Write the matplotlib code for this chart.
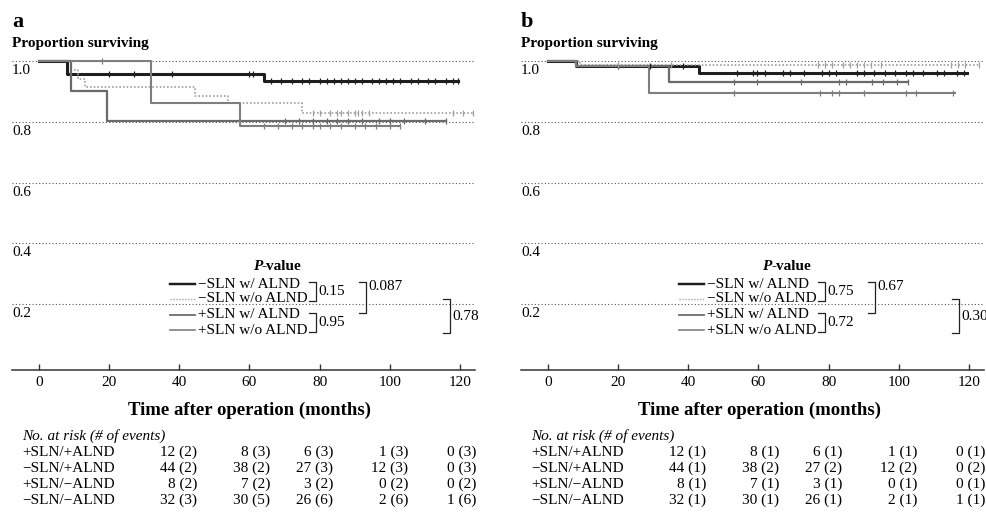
import numpy as np
import matplotlib
matplotlib.use('Agg')
import matplotlib.pyplot as plt

plt.rcParams['font.family'] = ['Liberation Serif', 'DejaVu Serif']

W, H = 986, 513

# ---- values: months / proportion surviving ----
legend_names = ['\u2212SLN w/ ALND', '\u2212SLN w/o ALND', '+SLN w/ ALND', '+SLN w/o ALND']

# panel a
a_negw_t = [0, 8, 64, 119.5]
a_negw_s = [1.0, 0.958, 0.933, 0.933]
a_negw_c = [20, 27, 38, 60, 61, 66, 69, 72, 75, 77, 80, 82, 84, 86, 88, 90, 92, 95,
            97, 99, 101, 103, 106, 108, 111, 113, 116, 118, 119.5]
a_negwo_t = [0, 9, 11, 13, 44.5, 54, 75, 123.7]
a_negwo_s = [1.0, 0.97, 0.94, 0.915, 0.884, 0.863, 0.83, 0.83]
a_negwo_c = [78, 80, 83, 85, 86, 88, 90, 91, 92, 94, 118, 121, 123.7]
a_posw_t = [0, 9, 19.3, 116]
a_posw_s = [1.0, 0.90, 0.803, 0.803]
a_posw_c = [70, 74, 78, 82, 85, 88, 92, 97, 100, 104, 110, 116]
a_poswo_t = [0, 32, 57.4, 103]
a_poswo_s = [1.0, 0.863, 0.785, 0.785]
a_poswo_c = [18, 64, 68, 72, 75, 78, 80, 83, 86, 90, 93, 96, 100, 103]

# panel b
b_negw_t = [0, 8, 43, 119.5]
b_negw_s = [1.0, 0.985, 0.96, 0.96]
b_negw_c = [20, 29, 38.5, 54, 58.5, 59.5, 62, 67, 69, 73, 78, 80, 82, 88, 90, 93, 96,
            99, 102, 104, 107, 111, 113, 116.5, 118.5]
b_negwo_t = [0, 9, 123]
b_negwo_s = [1.0, 0.988, 0.988]
b_negwo_c = [20, 35, 77, 79, 81, 84, 86, 88, 90, 92, 95, 115, 117, 119, 123]
b_posw_t = [0, 8, 34.4, 102.5]
b_posw_s = [1.0, 0.985, 0.93, 0.93]
b_posw_c = [53, 59.5, 72, 83, 85, 92.5, 95.5, 99.5, 102.5]
b_poswo_t = [0, 8, 28.7, 116]
b_poswo_s = [1.0, 0.985, 0.895, 0.895]
b_poswo_c = [53, 77.5, 81, 83, 90, 102, 105, 115.5]

# numbers at risk
risk_groups = ['+SLN/+ALND', '\u2212SLN/+ALND', '+SLN/\u2212ALND', '\u2212SLN/\u2212ALND']
a_risk = [['12 (2)', '8 (3)', '6 (3)', '1 (3)', '0 (3)'],
          ['44 (2)', '38 (2)', '27 (3)', '12 (3)', '0 (3)'],
          ['8 (2)', '7 (2)', '3 (2)', '0 (2)', '0 (2)'],
          ['32 (3)', '30 (5)', '26 (6)', '2 (6)', '1 (6)']]
b_risk = [['12 (1)', '8 (1)', '6 (1)', '1 (1)', '0 (1)'],
          ['44 (1)', '38 (2)', '27 (2)', '12 (2)', '0 (2)'],
          ['8 (1)', '7 (1)', '3 (1)', '0 (1)', '0 (1)'],
          ['32 (1)', '30 (1)', '26 (1)', '2 (1)', '1 (1)']]

# p-values: w vs w/o (-SLN), w vs w/o (+SLN), -SLN vs +SLN w/, -SLN vs +SLN w/o
a_pvals = ['0.15', '0.95', '0.087', '0.78']
b_pvals = ['0.75', '0.72', '0.67', '0.30']

styles = [dict(color='#1e1e1e', lw=2.2, ls='-'),
          dict(color='#a0a0a0', lw=1.2, ls=(0, (1, 1.2))),
          dict(color='#6a6a6a', lw=1.6, ls='-'),
          dict(color='#7e7e7e', lw=1.5, ls='-')]

panels = [
    dict(tag='a', dx=0,
         curves=[(a_negw_t, a_negw_s, a_negw_c), (a_negwo_t, a_negwo_s, a_negwo_c),
                 (a_posw_t, a_posw_s, a_posw_c), (a_poswo_t, a_poswo_s, a_poswo_c)],
         risk=a_risk, pvals=a_pvals),
    dict(tag='b', dx=509,
         curves=[(b_negw_t, b_negw_s, b_negw_c), (b_negwo_t, b_negwo_s, b_negwo_c),
                 (b_posw_t, b_posw_s, b_posw_c), (b_poswo_t, b_poswo_s, b_poswo_c)],
         risk=b_risk, pvals=b_pvals),
]

fig = plt.figure(figsize=(W / 100, H / 100), dpi=100)
fig.patch.set_facecolor('white')

# overlay in pixel units for the annotations
ov = fig.add_axes([0, 0, 1, 1], zorder=5)
ov.set_xlim(0, W)
ov.set_ylim(H, 0)
ov.axis('off')

# axes geometry (pixels)
ax_l, ax_r, ax_top, ax_bot = 12, 475, 50, 370
px0, px_per_m = 39, 3.508          # t = 0 position, px per month
py1, py_per_unit = 61, 304.0       # s = 1.0 position, px per unit

for p in panels:
    dx = p['dx']
    ax = fig.add_axes([(ax_l + dx) / W, (H - ax_bot) / H, (ax_r - ax_l) / W, (ax_bot - ax_top) / H])
    ax.set_xlim(-(px0 - ax_l) / px_per_m, (ax_r - px0) / px_per_m)
    ax.set_ylim(1 - (ax_bot - py1) / py_per_unit, 1 + (py1 - ax_top) / py_per_unit)
    for sp in ['top', 'left', 'right']:
        ax.spines[sp].set_visible(False)
    ax.spines['bottom'].set_color('#333333')
    ax.spines['bottom'].set_linewidth(1.1)
    ax.set_yticks([])
    ax.set_xticks(np.arange(0, 121, 20))
    ax.tick_params(axis='x', direction='in', length=4.5, width=1, colors='#333333',
                   labelsize=11, labelcolor='black', pad=4)
    ax.patch.set_alpha(0)

    for v in [0.2, 0.4, 0.6, 0.8, 1.0]:
        ax.axhline(v, color='#555555', lw=0.8, ls=(0, (1, 2)), zorder=1)
        ov.text(ax_l + dx, py1 + (1 - v) * py_per_unit + 3, '%.1f' % v,
                fontsize=11, va='top', ha='left')

    for (t, s, c), st in zip(p['curves'], styles):
        ax.step(t, s, where='post', color=st['color'], lw=st['lw'], ls=st['ls'], zorder=3)
        t_arr = np.array(t)
        s_arr = np.array(s)
        idx = np.searchsorted(t_arr, np.array(c), side='right') - 1
        ax.plot(c, s_arr[idx], ls='none', marker='|', ms=5, mew=0.9,
                color=st['color'], zorder=4)

    # panel letter and y title
    ov.text(ax_l + dx, 22, p['tag'], fontsize=16, fontweight='bold', va='center', ha='left')
    ov.text(ax_l + dx, 44, 'Proportion surviving', fontsize=11, fontweight='bold',
            va='center', ha='left')

    # x title
    ov.text(250 + dx, 410, 'Time after operation (months)', fontsize=13.5,
            fontweight='bold', va='center', ha='center')

    # legend with p-value brackets
    rows = [284, 299, 315, 330]
    ov.text(262 + dx, 266, 'P', fontsize=11, fontweight='bold', fontstyle='italic',
            va='center', ha='right')
    ov.text(262 + dx, 266, '-value', fontsize=11, fontweight='bold', va='center', ha='left')
    for name, y, st in zip(legend_names, rows, styles):
        ov.plot([170 + dx, 195 + dx], [y, y], color=st['color'], lw=st['lw'] * 0.8,
                ls=st['ls'])
        ov.text(198 + dx, y, name, fontsize=11, va='center', ha='left')

    def bracket(x0, x1, y0, y1):
        ov.plot([x0, x1, x1, x0], [y0, y0, y1, y1], color='#222222', lw=0.9)

    pv = p['pvals']
    bracket(309 + dx, 316 + dx, rows[0] - 2, rows[1] + 2)
    ov.text(318 + dx, (rows[0] + rows[1]) / 2, pv[0], fontsize=11, va='center', ha='left')
    bracket(309 + dx, 316 + dx, rows[2] - 2, rows[3] + 2)
    ov.text(318 + dx, (rows[2] + rows[3]) / 2, pv[1], fontsize=11, va='center', ha='left')
    bracket(359 + dx, 366 + dx, rows[0] - 2, rows[2] - 2)
    ov.text(368 + dx, rows[0] + 3, pv[2], fontsize=11, va='center', ha='left')
    bracket(443 + dx, 450 + dx, rows[1], rows[3] + 3)
    ov.text(452 + dx, (rows[1] + rows[3]) / 2 + 2, pv[3], fontsize=11, va='center', ha='left')

    # numbers at risk table
    ov.text(22 + dx, 436, 'No. at risk (# of events)', fontsize=11, fontstyle='italic',
            va='center', ha='left')
    col_right = [197, 270, 333, 408, 476]
    for i, (grp, vals) in enumerate(zip(risk_groups, p['risk'])):
        y = 452 + 16 * i
        ov.text(22 + dx, y, grp, fontsize=11, va='center', ha='left')
        for xr, v in zip(col_right, vals):
            ov.text(xr + dx, y, v, fontsize=11, va='center', ha='right')

fig.savefig('out.png', dpi=100, facecolor='white')
